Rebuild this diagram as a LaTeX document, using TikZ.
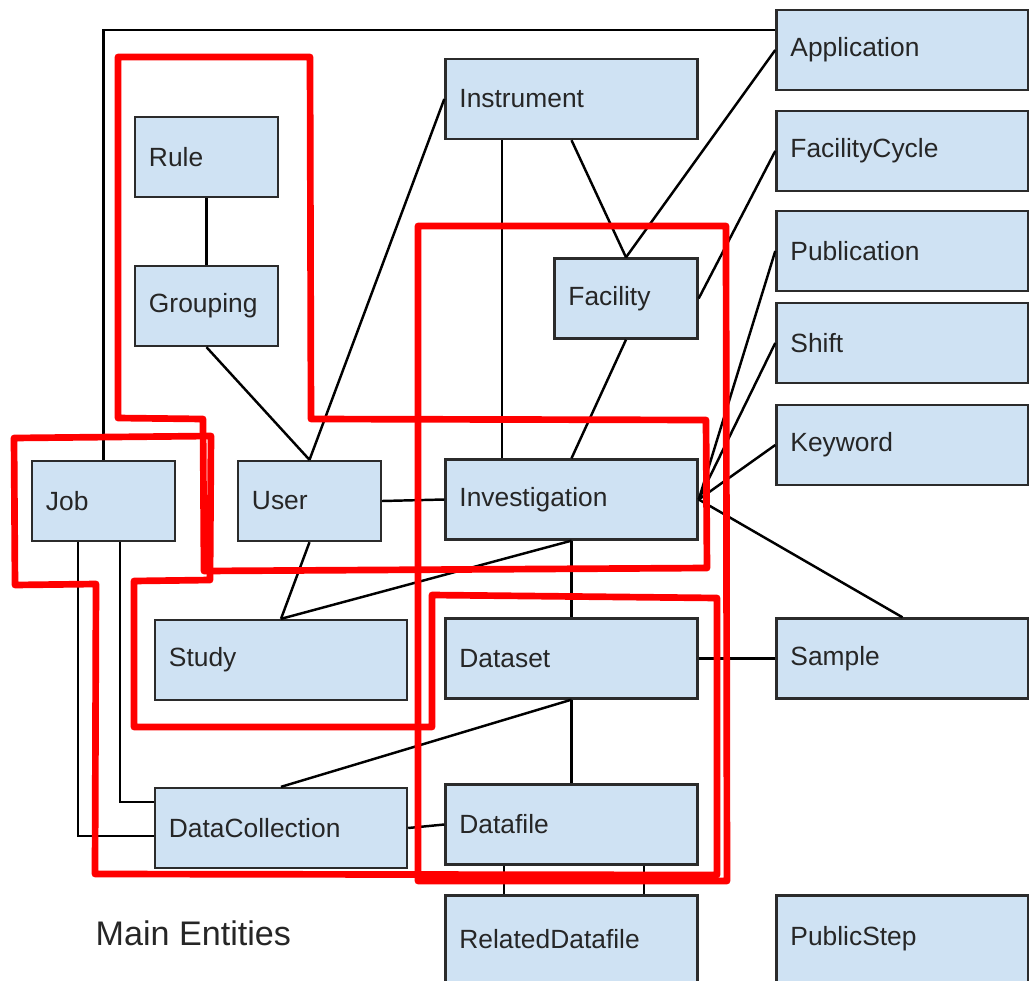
\documentclass[tikz,border=0pt]{standalone}
\usepackage{fontspec}
\setmainfont{Liberation Sans}
\definecolor{boxfill}{HTML}{CFE2F3}
\definecolor{boxline}{HTML}{2B2B2B}
\definecolor{marker}{HTML}{FF0000}
\tikzset{
  entity/.style={draw=boxline, fill=boxfill, line width=0.65pt, inner xsep=0.14cm,
    align=left, minimum height=0.8cm, text=black!85, font=\fontsize{7.5}{9}\selectfont},
  small/.style={entity, text width=1.15cm},
  wide/.style={entity, text width=2.24cm},
  link/.style={line width=0.7pt, black},
  hilite/.style={marker, line width=1.9pt, line join=round}
}
\begin{document}
\begin{tikzpicture}[x=0.01cm, y=-0.01cm]
\useasboundingbox (0,0) rectangle (1029,981);

% Entities
\foreach \n/\x/\y in {Rule/206.5/157, Grouping/206.5/306, Job/103.5/501, User/309.5/501, Facility/626/298.5}
    \node[small] (\n) at (\x,\y) {\n};
\foreach \n/\x/\y in {Instrument/571.5/99, Investigation/571.5/499.5, Dataset/571.5/658.5,
    Datafile/571.5/824.5, Study/281/660, DataCollection/281/828, Application/902.5/50,
    FacilityCycle/902.5/151, Publication/902.5/251, Shift/902.5/343, Keyword/902.5/445,
    Sample/902.5/658.5}
    \node[wide] (\n) at (\x,\y) {\n};
\foreach \n/\x in {RelatedDatafile/571.5, PublicStep/902.5}
    \node[wide, minimum height=0.87cm] (\n) at (\x,939) {\n};

\node[anchor=base west, inner sep=0pt, font=\fontsize{9.7}{11}\selectfont, text=black!85] (title) at (95,945) {Main Entities};

% Relations
\foreach \a/\b in {Rule.south/Grouping.north, Grouping.south/User.north, Instrument.west/User.north,
    Instrument.south/Facility.north, Application.west/Facility.north, FacilityCycle.west/Facility.east,
    Facility.south/Investigation.north, Publication.west/Investigation.east,
    Shift.west/Investigation.east, Keyword.west/Investigation.east, Investigation.east/Sample.north,
    User.east/Investigation.west, User.south/Study.north, Investigation.south/Study.north,
    Investigation.south/Dataset.north, Dataset.east/Sample.west, Dataset.south/DataCollection.north,
    Dataset.south/Datafile.north, DataCollection.east/Datafile.west}
    \draw[link] (\a) -- (\b);

\draw[link] ([xshift=-0.695cm]Instrument.south) -- ([xshift=-0.695cm]Investigation.north);
\draw[link] (Job.north) |- ([yshift=0.2cm]Application.west);
\draw[link] ([xshift=-0.255cm]Job.south) |- ([yshift=-0.08cm]DataCollection.west);
\draw[link] ([xshift=0.165cm]Job.south) |- ([yshift=0.26cm]DataCollection.west);
\foreach \dx in {-0.675cm,0.725cm}
    \draw[link] ([xshift=\dx]Datafile.south) -- ([xshift=\dx]RelatedDatafile.north);

% Hand-drawn groups
\draw[hilite] (118,57) -- (310,57) -- (311,419) -- (706,420) -- (707,568) -- (204,571)
    -- (203,419) -- (118,418) -- cycle;
\draw[hilite] (14,438) -- (211,436) -- (210,580) -- (134,581) -- (134,727) -- (432,727)
    -- (432,595) -- (717,598) -- (717,875) -- (95,874) -- (96,584) -- (15,585) -- cycle;
\draw[hilite] (418,226) -- (726,226) -- (727,881) -- (418,881) -- cycle;

\end{tikzpicture}
\end{document}
